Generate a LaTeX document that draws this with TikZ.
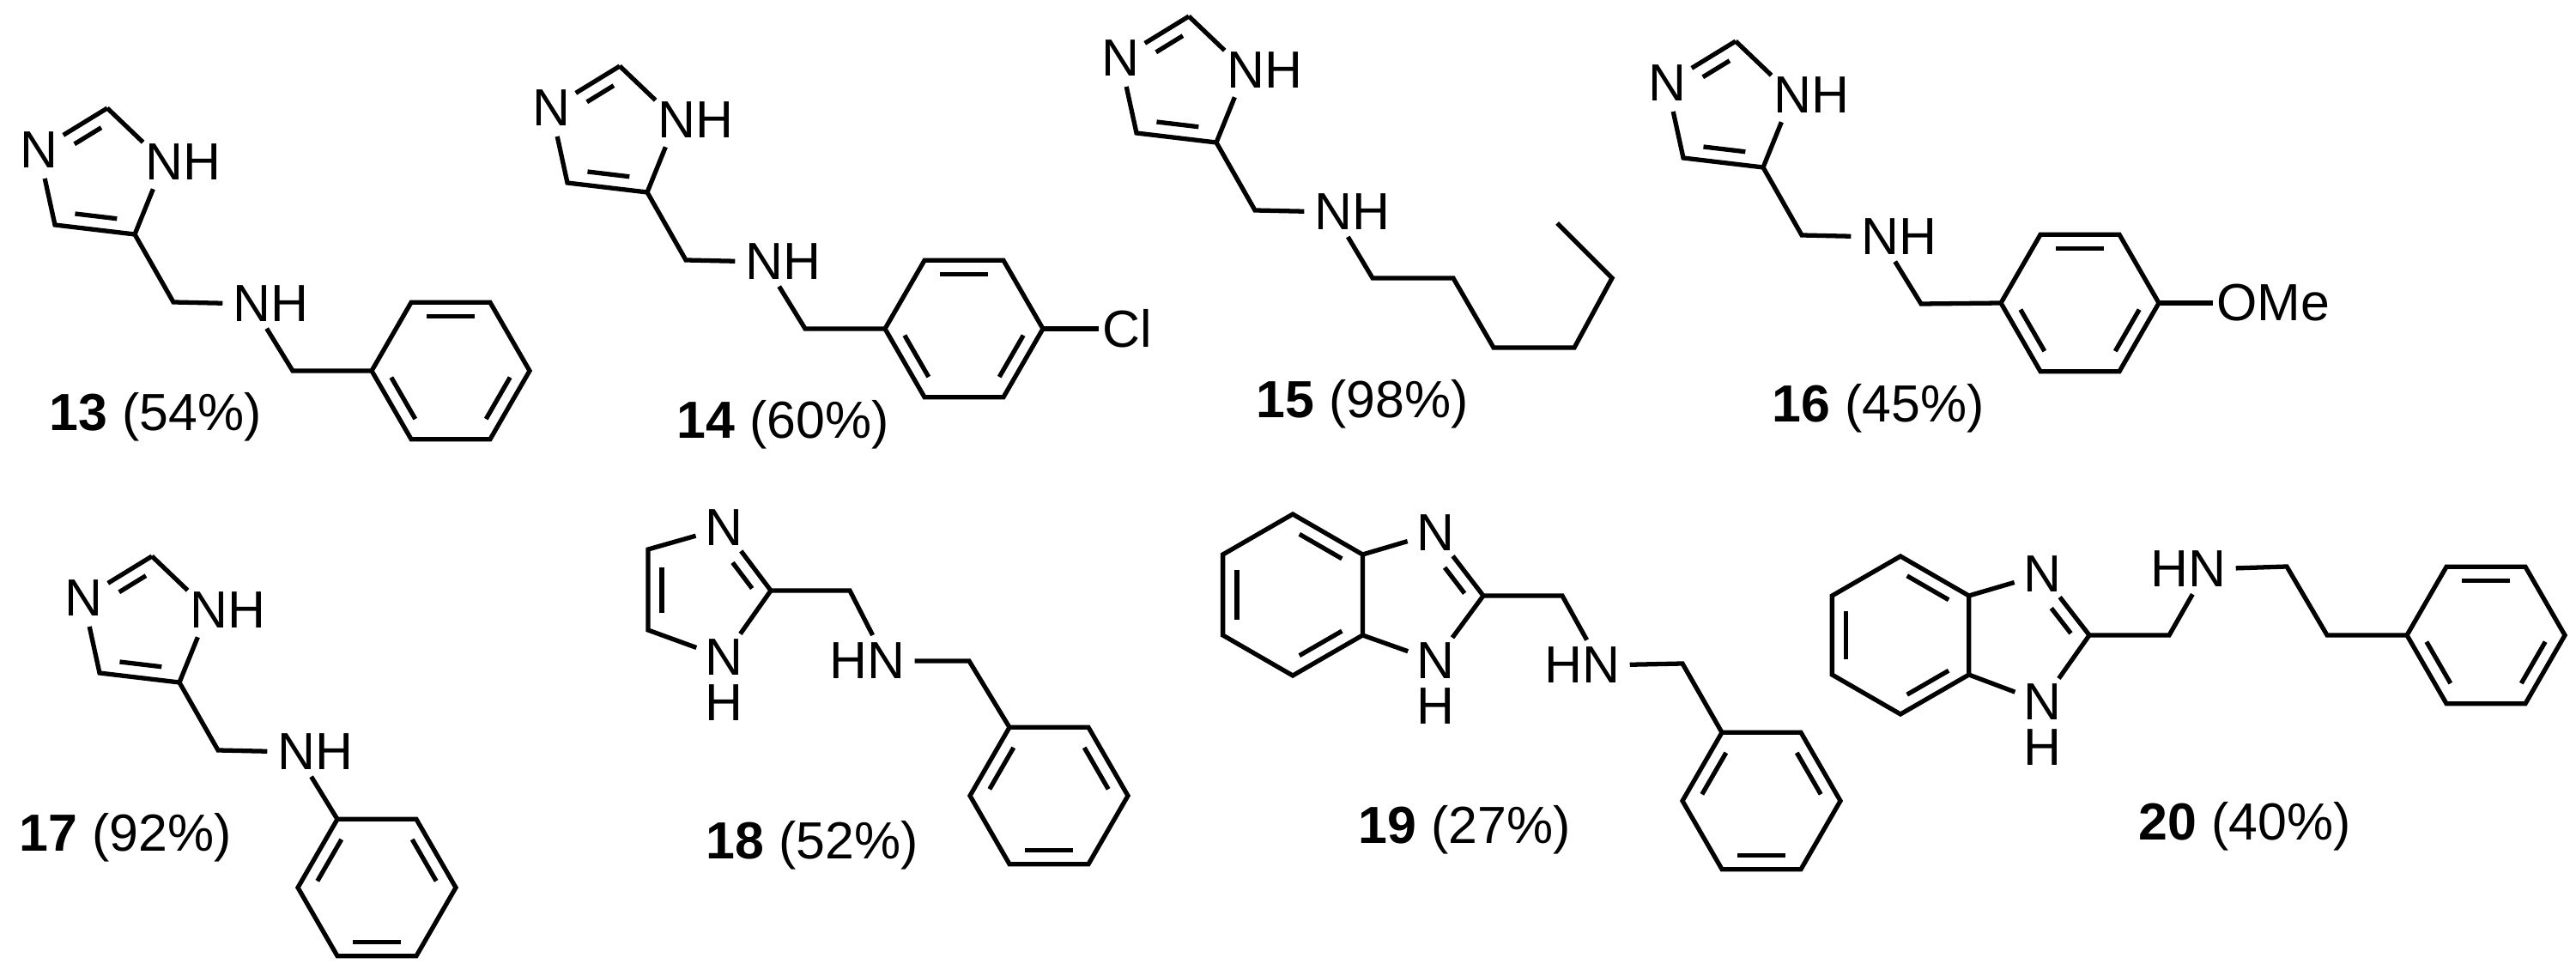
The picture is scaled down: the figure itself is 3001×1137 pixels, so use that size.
\documentclass[tikz,border=0pt]{standalone}
\usepackage{fontspec}
\setmainfont{Liberation Sans}
\usetikzlibrary{calc}
\newcommand\fs{\fontsize{17.3}{20}\selectfont}
\tikzset{
  bond/.style={line width=1.5pt},
  atom/.style={circle,inner sep=0pt,minimum size=0.66cm,font=\fs},
  hy/.style={inner sep=0pt,font=\fs},
  lbl/.style={anchor=base west,inner sep=0pt,font=\fs},
  subst/.style={anchor=west,inner sep=1pt,font=\fs}
}
\newcommand\dbl[6]{\path ($(#1)!#4!(#2)$) coordinate (tmpa) ($(#1)!#5!(#2)$) coordinate (tmpb);
  \draw[bond] ($(tmpa)!#6!(#3)$) -- ($(tmpb)!#6!(#3)$);}
\newcommand\hexring[4]{\foreach \k in {0,...,5}{\path (#2) ++({#3+60*\k}:#4) coordinate (#1\k);}
  \coordinate (#1c) at (#2);
  \draw[bond] (#10)--(#11)--(#12)--(#13)--(#14)--(#15)--cycle;}
\newcommand\imid[1]{
  \coordinate (#1c2) at (0,0);
  \node[atom] (#1n3) at (-80,49) {N};
  \node[atom] (#1n1) at (66,63) {N};
  \node[hy] (#1h1) at (110,63) {H};
  \coordinate (#1c4) at (-61,136);
  \coordinate (#1c5) at (32,147);
  \coordinate (#1ch) at (77,226);
  \node[atom] (#1nb) at (168,228) {N};
  \node[hy] (#1hb) at (212,228) {H};
  \coordinate (#1ctr) at (-9,79);
  \draw[bond] (#1c2)--(#1n3)--(#1c4)--(#1c5)--(#1n1)--(#1c2);
  \draw[bond] (#1c5)--(#1ch)--(#1nb);
  \dbl{#1c2}{#1n3}{#1ctr}{0.08}{0.6}{0.25}
  \dbl{#1c4}{#1c5}{#1ctr}{0.15}{0.85}{0.25}
}
\newcommand\phdbl[1]{%
  \dbl{#14}{#15}{#1c}{0.12}{0.88}{0.2}
  \dbl{#13}{#12}{#1c}{0.12}{0.88}{0.2}
  \dbl{#10}{#11}{#1c}{0.12}{0.88}{0.2}}
\newcommand\phdblb[1]{%
  \dbl{#14}{#13}{#1c}{0.12}{0.88}{0.2}
  \dbl{#15}{#10}{#1c}{0.12}{0.88}{0.2}
  \dbl{#11}{#12}{#1c}{0.12}{0.88}{0.2}}
\begin{document}
\begin{tikzpicture}[x=0.01cm,y=-0.01cm]
\useasboundingbox (0,0) rectangle (3001,1137);
% ---- 13
\begin{scope}[shift={(125,126)}]\imid{a}\end{scope}
\coordinate (ach2) at (341,432);
\hexring{ar}{525,432}{0}{92}
\phdbl{ar}
\draw[bond] (anb)--(ach2)--(ar3);
\node[lbl] (l13) at (57,502) {\textbf{13} (54\%)};
% ---- 14
\begin{scope}[shift={(722,77)}]\imid{b}\end{scope}
\coordinate (bch2) at (938,383);
\hexring{br}{1123,383}{0}{92}
\phdbl{br}
\draw[bond] (bnb)--(bch2)--(br3);
\node[subst] (cl) at (1280,383) {Cl};
\draw[bond] (br0)--(cl.west);
\node[lbl] (l14) at (788,511) {\textbf{14} (60\%)};
% ---- 15
\begin{scope}[shift={(1385,19)}]\imid{c}\end{scope}
\coordinate (cc1) at (1599,324);
\coordinate (cc2) at (1693,324);
\coordinate (cc3) at (1740,405);
\coordinate (cc4) at (1834,405);
\coordinate (cc5) at (1878,324);
\coordinate (cc6) at (1814,260);
\draw[bond] (cnb)--(cc1)--(cc2)--(cc3)--(cc4)--(cc5)--(cc6);
\node[lbl] (l15) at (1463,487) {\textbf{15} (98\%)};
% ---- 16
\begin{scope}[shift={(2022,48)}]\imid{d}\end{scope}
\coordinate (dch2) at (2238,354);
\hexring{dr}{2423,353}{0}{92}
\phdbl{dr}
\draw[bond] (dnb)--(dch2)--(dr3);
\node[subst] (ome) at (2578,353) {OMe};
\draw[bond] (dr0)--(ome.west);
\node[lbl] (l16) at (2064,492) {\textbf{16} (45\%)};
% ---- 17
\begin{scope}[shift={(177,648)}]\imid{e}\end{scope}
\hexring{er}{439,1034}{0}{92}
\phdblb{er}
\draw[bond] (enb)--(er4);
\node[lbl] (l17) at (22,991) {\textbf{17} (92\%)};
% ---- 18
\node[atom] (fn3) at (843,615) {N};
\node[atom] (fn1) at (843,766) {N};
\node[hy] (fh1) at (843,819) {H};
\coordinate (fc2) at (898,688);
\coordinate (fc4) at (755,640);
\coordinate (fc5) at (755,734);
\coordinate (fctr) at (819,689);
\draw[bond] (fc2)--(fn3)--(fc4)--(fc5)--(fn1)--(fc2);
\dbl{fc2}{fn3}{fctr}{0.05}{0.6}{0.25}
\dbl{fc4}{fc5}{fctr}{0.13}{0.87}{0.25}
\coordinate (fch) at (990,688);
\node[atom] (fnb) at (1032,770) {N};
\node[hy] (fhb) at (988,770) {H};
\coordinate (fch2) at (1129,770);
\hexring{fr}{1222,927}{0}{92}
\phdblb{fr}
\draw[bond] (fc2)--(fch)--(fnb)--(fch2)--(fr4);
\node[lbl] (l18) at (822,1000) {\textbf{18} (52\%)};
% ---- 19
\hexring{gb}{1506,693}{30}{94}
\dbl{gb4}{gb5}{gbc}{0.12}{0.88}{0.2}
\dbl{gb2}{gb3}{gbc}{0.12}{0.88}{0.2}
\dbl{gb1}{gb0}{gbc}{0.12}{0.88}{0.2}
\node[atom] (gn3) at (1672,621) {N};
\node[atom] (gn1) at (1672,770) {N};
\node[hy] (gh1) at (1672,823) {H};
\coordinate (gc2) at (1728,694);
\coordinate (gctr) at (1649,694);
\draw[bond] (gb5)--(gn3)--(gc2)--(gn1)--(gb0);
\dbl{gc2}{gn3}{gctr}{0.05}{0.6}{0.25}
\coordinate (gch) at (1820,694);
\node[atom] (gnb) at (1865,775) {N};
\node[hy] (ghb) at (1821,775) {H};
\coordinate (gch2) at (1960,773);
\hexring{gr}{2052,933}{0}{92}
\phdblb{gr}
\draw[bond] (gc2)--(gch)--(gnb)--(gch2)--(gr4);
\node[lbl] (l19) at (1582,982) {\textbf{19} (27\%)};
% ---- 20
\hexring{hb}{2214,740}{30}{92}
\dbl{hb4}{hb5}{hbc}{0.12}{0.88}{0.2}
\dbl{hb2}{hb3}{hbc}{0.12}{0.88}{0.2}
\dbl{hb1}{hb0}{hbc}{0.12}{0.88}{0.2}
\node[atom] (hn3) at (2379,669) {N};
\node[atom] (hn1) at (2379,818) {N};
\node[hy] (hh1) at (2379,871) {H};
\coordinate (hc2) at (2434,740);
\coordinate (hctr) at (2356,742);
\draw[bond] (hb5)--(hn3)--(hc2)--(hn1)--(hb0);
\dbl{hc2}{hn3}{hctr}{0.05}{0.6}{0.25}
\coordinate (hch) at (2527,740);
\node[atom] (hnb) at (2571,663) {N};
\node[hy] (hhb) at (2527,663) {H};
\coordinate (hc3) at (2664,660);
\coordinate (hc4) at (2711,740);
\hexring{hr}{2896,740}{0}{92}
\phdbl{hr}
\draw[bond] (hc2)--(hch)--(hnb)--(hc3)--(hc4)--(hr3);
\node[lbl] (l20) at (2491,978) {\textbf{20} (40\%)};
\end{tikzpicture}
\end{document}
